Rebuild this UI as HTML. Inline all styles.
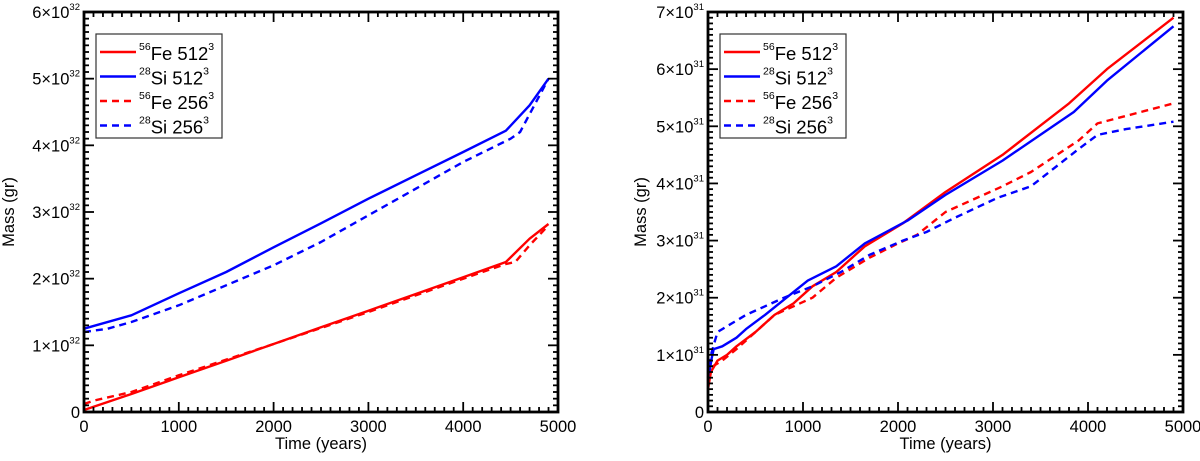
<!DOCTYPE html>
<html><head><meta charset="utf-8"><style>
html,body{margin:0;padding:0;background:#fff;}
svg text{font-family:"Liberation Sans",sans-serif;fill:#000;}
</style></head><body>
<svg id="svg" width="1200" height="456" xmlns="http://www.w3.org/2000/svg"></svg>
<script>
// ---- Left panel data (units 1e32 g) ----
const leftFe512X=[0,500,1000,1500,2000,2500,3000,3500,4000,4450,4700,4900];
const leftFe512Y=[0.03,0.27,0.52,0.77,1.02,1.27,1.52,1.77,2.02,2.25,2.6,2.82];
const leftSi512X=[0,500,1000,1500,2000,2500,3000,3500,4000,4450,4700,4900];
const leftSi512Y=[1.25,1.45,1.78,2.1,2.47,2.83,3.2,3.55,3.9,4.22,4.6,5.0];
const leftFe256X=[0,100,500,1000,2000,3000,4000,4450,4550,4700,4900];
const leftFe256Y=[0.12,0.17,0.3,0.55,1.02,1.5,2.0,2.22,2.25,2.5,2.8];
const leftSi256X=[0,250,500,1000,1500,2000,2500,3000,3500,4000,4500,4600,4900];
const leftSi256Y=[1.2,1.25,1.35,1.6,1.9,2.2,2.55,2.95,3.35,3.75,4.1,4.2,5.0];
const leftYTicks=[0,1,2,3,4,5,6];
// ---- Right panel data (units 1e31 g) ----
const rightFe512X=[0,30,100,200,300,500,700,900,1100,1350,1650,2050,2500,3100,3800,4200,4900];
const rightFe512Y=[0.4,0.7,0.9,1.0,1.15,1.4,1.7,1.9,2.2,2.45,2.9,3.3,3.85,4.5,5.4,6.0,6.9];
const rightSi512X=[0,40,60,150,300,400,600,750,1050,1350,1650,2100,2500,3100,3850,4200,4900];
const rightSi512Y=[0.55,0.95,1.1,1.15,1.3,1.45,1.7,1.9,2.3,2.55,2.95,3.35,3.8,4.4,5.25,5.8,6.75];
const rightFe256X=[0,50,150,300,500,700,900,1100,1350,1700,2000,2200,2500,3100,3400,3900,4100,4900];
const rightFe256Y=[0.6,0.8,0.9,1.1,1.4,1.7,1.85,2.0,2.35,2.7,2.95,3.1,3.5,3.95,4.2,4.75,5.05,5.4];
const rightSi256X=[0,30,100,150,250,400,800,1100,1400,1700,2050,2300,2600,3050,3400,3900,4100,4400,4900];
const rightSi256Y=[0.6,1.0,1.4,1.45,1.55,1.7,2.0,2.2,2.45,2.75,3.0,3.15,3.4,3.75,3.95,4.6,4.85,4.95,5.08];
const rightYTicks=[0,1,2,3,4,5,6,7];
const xTicks=[0,1000,2000,3000,4000,5000];
const legendLabels=[["56","Fe 512"],["28","Si 512"],["56","Fe 256"],["28","Si 256"]];

const NS="http://www.w3.org/2000/svg";
const svg=document.getElementById('svg');
function mk(tag,attrs,parent){const e=document.createElementNS(NS,tag);for(const k in attrs)e.setAttribute(k,attrs[k]);(parent||svg).appendChild(e);return e;}

function panel(name,x0,x1,y0,y1,ymax,exp,yTicks,series){
  const g=mk('g',{});
  
  
  const sx=v=>x0+(v/5000)*(x1-x0);
  const sy=v=>y0-(v/ymax)*(y0-y1);
  series.forEach(s=>{
    const pts=s.x.map((v,i)=>sx(v).toFixed(1)+','+sy(s.y[i]).toFixed(1)).join(' ');
    const pl=mk('polyline',{points:pts,fill:'none',stroke:s.c,'stroke-width':2.4,'stroke-dasharray':s.d?'7,5':'none','stroke-linejoin':'round'},g);
    
    
  });
  const tg=mk('g',{stroke:'#000','stroke-width':1.8},g);
  
  
  for(let v=0;v<=5000;v+=100){
    const X=sx(v);const L=(v%1000===0)?10:5;
    mk('line',{x1:X,y1:y0,x2:X,y2:y0-L},tg);
    mk('line',{x1:X,y1:y1,x2:X,y2:y1+L},tg);
  }
  for(let k=0;k<=ymax*10;k++){
    const v=k/10;const Y=sy(v);const L=(k%10===0)?10:5;
    mk('line',{x1:x0,y1:Y,x2:x0+L,y2:Y},tg);
    mk('line',{x1:x1,y1:Y,x2:x1-L,y2:Y},tg);
  }
  const fr=mk('rect',{x:x0,y:y1,width:x1-x0,height:y0-y1,fill:'none',stroke:'#000','stroke-width':2.8},g);
  
  
  xTicks.forEach(v=>{
    const t=mk('text',{x:sx(v),y:y0+20,'font-size':16.5,'text-anchor':'middle'},g);
    t.textContent=String(v);
    
    
  });
  yTicks.forEach(v=>{
    const t=mk('text',{x:x0-4,y:sy(v)+6,'font-size':16.5,'text-anchor':'end'},g);
    if(v===0){t.textContent='0';}
    else{t.textContent=v+'\u00d710';const ts=mk('tspan',{dy:-8,'font-size':9.5},t);ts.textContent=exp;}
    
    
  });
  const xt=mk('text',{x:(x0+x1)/2,y:y0+37,'font-size':16.5,'text-anchor':'middle'},g);
  xt.textContent='Time (years)';
  
  
  const yx=x0-(exp==='32'?70:62);
  const yt=mk('text',{x:yx,y:(y0+y1)/2,'font-size':16.5,'text-anchor':'middle',transform:`rotate(-90 ${yx} ${(y0+y1)/2})`},g);
  yt.textContent='Mass (gr)';
  
  
  const lx=x0+12, ly=34;
  const lg=mk('g',{},g);
  
  
  mk('rect',{x:lx,y:ly,width:126,height:104,fill:'#fff',stroke:'#333','stroke-width':1.2},lg);
  series.forEach((s,i)=>{
    const yy=ly+18+i*24.5;
    const e=mk('g',{},lg);
    
    
    mk('line',{x1:lx+4,y1:yy,x2:lx+40,y2:yy,stroke:s.c,'stroke-width':2.4,'stroke-dasharray':s.d?'7,5':'none'},e);
    const t=mk('text',{x:lx+43,y:yy+8,'font-size':18.5},e);
    const a=mk('tspan',{'font-size':10.5,dy:-10},t);a.textContent=legendLabels[i][0];
    const b=mk('tspan',{dy:10},t);b.textContent=legendLabels[i][1];
    const c=mk('tspan',{'font-size':10.5,dy:-10},t);c.textContent='3';
  });
}
panel('left-panel',84,558,412,12,6,'32',leftYTicks,[
  {x:leftFe512X,y:leftFe512Y,c:'#f00',d:false,n:'fe-512-line'},
  {x:leftSi512X,y:leftSi512Y,c:'#00f',d:false,n:'si-512-line'},
  {x:leftFe256X,y:leftFe256Y,c:'#f00',d:true,n:'fe-256-line'},
  {x:leftSi256X,y:leftSi256Y,c:'#00f',d:true,n:'si-256-line'}]);
panel('right-panel',708,1183,412,12,7,'31',rightYTicks,[
  {x:rightFe512X,y:rightFe512Y,c:'#f00',d:false,n:'fe-512-line'},
  {x:rightSi512X,y:rightSi512Y,c:'#00f',d:false,n:'si-512-line'},
  {x:rightFe256X,y:rightFe256Y,c:'#f00',d:true,n:'fe-256-line'},
  {x:rightSi256X,y:rightSi256Y,c:'#00f',d:true,n:'si-256-line'}]);
</script>
</body></html>
